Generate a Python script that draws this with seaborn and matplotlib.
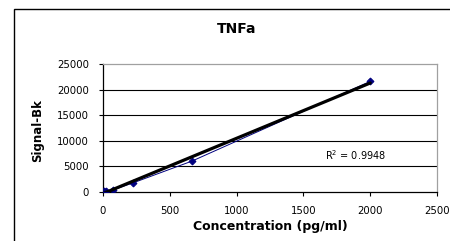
import matplotlib
matplotlib.use("Agg")
import matplotlib.pyplot as plt
import seaborn as sns
import numpy as np
import pandas as pd
from matplotlib.patches import Rectangle

concentration = [0, 8.2, 24.7, 74.1, 222.2, 666.7, 2000]
signal = [0, 60, 150, 330, 1700, 6000, 21600]
x_ticks = [0, 500, 1000, 1500, 2000, 2500]
y_ticks = [0, 5000, 10000, 15000, 20000, 25000]
title = "TNFa"
x_label = "Concentration (pg/ml)"
y_label = "Signal-Bk"
r2_label = "R$^2$ = 0.9948"

sns.set_theme(style="white")
plt.rcParams['font.family'] = ['DejaVu Sans']
plt.rcParams['mathtext.fontset'] = 'dejavusans'
plt.rcParams['text.color'] = 'black'
plt.rcParams['axes.labelcolor'] = 'black'
plt.rcParams['xtick.color'] = 'black'
plt.rcParams['ytick.color'] = 'black'

df = pd.DataFrame({"conc": concentration, "sig": signal})

fig = plt.figure(figsize=(4.5, 2.41), dpi=100)
fig.patch.set_facecolor("white")
ax = fig.add_axes([103/450, 1 - 191.7/241, (437-103)/450, (191.7-64)/241])

for yv in y_ticks[1:-1]:
    ax.axhline(yv, color="black", lw=0.8, zorder=0)

sns.lineplot(data=df, x="conc", y="sig", ax=ax, color="#00007f", lw=0.7,
             marker="D", markersize=3.5, markeredgecolor="#00007f", zorder=3)
sns.regplot(data=df, x="conc", y="sig", ax=ax, ci=None, scatter=False,
            truncate=True, line_kws=dict(color="black", lw=2.3, zorder=4))

ax.set_xlim(0, 2500)
ax.set_ylim(0, 25000)
ax.set_xticks(x_ticks)
ax.set_yticks(y_ticks)
ax.set_xticklabels([str(v) for v in x_ticks], fontsize=7.3)
ax.set_yticklabels([str(v) for v in y_ticks], fontsize=7.3)
ax.tick_params(axis="both", direction="out", length=3, width=0.8, color="black",
               bottom=True, left=True)
ax.tick_params(axis="x", pad=7)
ax.tick_params(axis="y", pad=7)
ax.set_xlabel(x_label, fontsize=9, fontweight="bold")
ax.set_ylabel(y_label, fontsize=8.5, fontweight="bold")
ax.xaxis.set_label_coords(0.5, -0.276)
ax.yaxis.set_label_coords(-0.195, 0.477)
ax.xaxis.label.set_va("center")
ax.yaxis.label.set_va("center")

for s in ["left", "bottom"]:
    ax.spines[s].set_color("black")
    ax.spines[s].set_linewidth(0.9)
for s in ["top", "right"]:
    ax.spines[s].set_color("#a0a0a0")
    ax.spines[s].set_linewidth(0.9)

ax.text(1662, 7180, r2_label, fontsize=7, va="center", ha="left")

fig.text(237/450, 1 - 29/241, title, fontsize=10, fontweight="bold",
         ha="center", va="center")

fig.patches.append(Rectangle((14/450, -0.1), 1.2, 1 - 9/241 + 0.1,
                             transform=fig.transFigure, fill=False,
                             edgecolor="black", lw=1.0))

fig.savefig("out.png", dpi=100)
